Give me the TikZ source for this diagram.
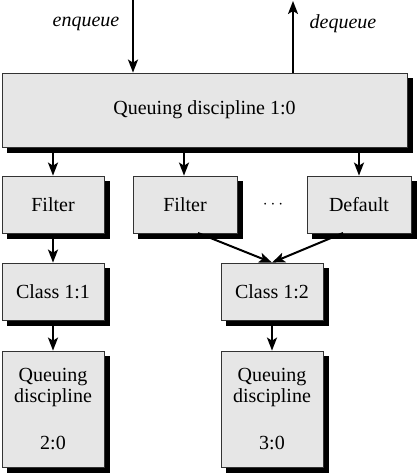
\documentclass[tikz,border=0pt]{standalone}
\usepackage{fontspec}
\setmainfont{Liberation Serif}
\usetikzlibrary{arrows.meta,backgrounds}
\definecolor{boxcol}{RGB}{230,230,230}
\begin{document}
\begin{tikzpicture}[x=1pt,y=-1pt,
  box/.style={draw=black!80,line width=0.8pt,fill=boxcol,
    inner sep=0pt,align=center,font=\fontsize{20}{21}\selectfont},
  arr/.style={line width=2pt,-{Stealth[length=13pt,width=10pt,inset=3pt]}},
  shad/.style={fill=black,draw=black,line width=1pt},
  lbl/.style={font=\fontsize{20}{21}\selectfont\itshape}]
\useasboundingbox (0,0) rectangle (417,474);
\node[box,minimum width=405pt,minimum height=74pt] (top) at (204.5,110) {Queuing discipline 1:0};
\node[box,minimum width=102pt,minimum height=57pt] (f1) at (53,204.5) {Filter};
\node[box,minimum width=104pt,minimum height=57pt] (f2) at (185,204.5) {Filter};
\node[box,minimum width=104pt,minimum height=57pt] (def) at (359,204.5) {Default};
\node[font=\fontsize{16}{17}\selectfont] (dots) at (273,204.5) {$\cdots$};
\node[box,minimum width=102pt,minimum height=57pt] (c1) at (53,291.5) {Class 1:1};
\node[box,minimum width=102pt,minimum height=57pt] (c2) at (272,291.5) {Class 1:2};
\node[box,minimum width=102pt,minimum height=116pt] (q1) at (53,409) {Queuing\\discipline\\[26pt]2:0};
\node[box,minimum width=102pt,minimum height=116pt] (q2) at (272,409) {Queuing\\discipline\\[26pt]3:0};
\begin{scope}[on background layer]
\foreach \n in {top,f1,f2,def,c1,c2,q1,q2}{
  \filldraw[shad] ([shift={(5.5pt,-5.5pt)}]\n.south west) rectangle ([shift={(5.5pt,-5.5pt)}]\n.north east);
}
\end{scope}
\coordinate (enq) at (133,0);
\coordinate (deq) at (293,1);
\node[lbl] (enqlbl) at (86,24) {enqueue};
\node[lbl] (deqlbl) at (343,24) {dequeue};
\draw[arr] (enq) -- (enq |- top.north);
\draw[arr] (deq |- top.north) -- (deq);
\draw[arr] ([yshift=-6pt]top.south -| f1) -- (f1.north);
\draw[arr] ([yshift=-6pt]top.south -| 184,0) -- (184,0 |- f2.north);
\draw[arr] ([yshift=-6pt]top.south -| def) -- (def.north);
\draw[arr] ([yshift=-6pt]f1.south) -- (f1.south |- c1.north);
\draw[arr] (198,233) -- (c2.north);
\draw[arr] (343,233) -- (c2.north);
\draw[arr] ([yshift=-6pt]c1.south) -- (q1.north);
\draw[arr] ([yshift=-6pt]c2.south) -- (q2.north);
\end{tikzpicture}
\end{document}
